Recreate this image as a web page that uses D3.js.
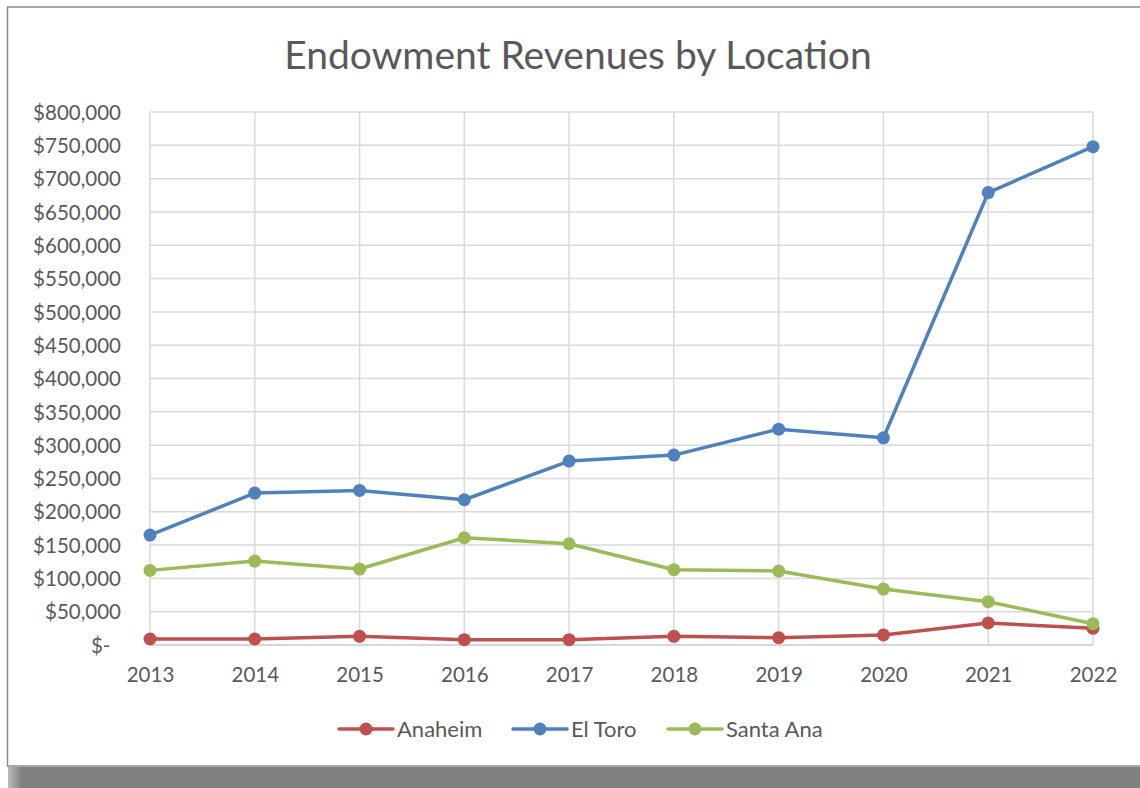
<!DOCTYPE html>
<html>
<head>
<meta charset="utf-8">
<script src="https://cdn.jsdelivr.net/npm/d3@7"></script>
<style>
    body { margin: 0; background: #fff; }
    text { font-family: Lato, "Open Sans", sans-serif; fill: #595959; }
</style>
</head>
<body>
<div class="svg-area"></div>
<script>
let years = [2013, 2014, 2015, 2016, 2017, 2018, 2019, 2020, 2021, 2022];
let anaheim = [9000, 9000, 13000, 8000, 8000, 13000, 11000, 15000, 33000, 25000];
let elToro = [165000, 228000, 232000, 218000, 276000, 285000, 324000, 311000, 679000, 748000];
let santaAna = [112000, 126000, 114000, 161000, 152000, 113000, 111000, 84000, 65000, 32000];
let yTicks = d3.range(0, 800001, 50000);

let seriesNames = ["Anaheim", "El Toro", "Santa Ana"];
let seriesColors = ["#C0504D", "#4F81BD", "#9BBB59"];
let series = [anaheim, elToro, santaAna];

let svg = d3.select(".svg-area").append("svg")
    .attr("width", 1140)
    .attr("height", 788)

// shadow + frame
let grad = svg.append("defs").append("linearGradient")
    .attr("id", "shadowGrad")
    .attr("x1", "0").attr("x2", "1")
grad.append("stop").attr("offset", "0").attr("stop-color", "#bdbdbd")
grad.append("stop").attr("offset", "0.012").attr("stop-color", "#808080")
grad.append("stop").attr("offset", "1").attr("stop-color", "#808080")

svg.append("rect")
    .attr("x", 8)
    .attr("y", 767)
    .attr("width", 1132)
    .attr("height", 21)
    .attr("fill", "url(#shadowGrad)")

svg.append("rect")
    .attr("x", 7.5)
    .attr("y", 7)
    .attr("width", 1140)
    .attr("height", 759)
    .attr("fill", "#fff")
    .attr("stroke", "#8c8c8c")
    .attr("stroke-width", 1.5)

let plotLeft = 150, plotRight = 1093, plotTop = 112, plotBottom = 645;

let x = d3.scalePoint()
    .domain(years)
    .range([plotLeft, plotRight])

let y = d3.scaleLinear()
    .domain([0, 800000])
    .range([plotBottom, plotTop])

// title
svg.append("text")
    .attr("x", 578)
    .attr("y", 54)
    .attr("text-anchor", "middle")
    .attr("dominant-baseline", "central")
    .style("font-size", "39px")
    .text("Endowment Revenues by Location")

// grid
svg.append("g").selectAll("line").data(yTicks).enter().append("line")
    .attr("x1", plotLeft)
    .attr("x2", plotRight)
    .attr("y1", d => y(d))
    .attr("y2", d => y(d))
    .attr("stroke", d => d === 0 ? "#c8c8c8" : "#d9d9d9")
    .attr("stroke-width", 1.5)

svg.append("g").selectAll("line").data(years).enter().append("line")
    .attr("x1", d => x(d))
    .attr("x2", d => x(d))
    .attr("y1", plotTop)
    .attr("y2", plotBottom)
    .attr("stroke", "#d9d9d9")
    .attr("stroke-width", 1.5)

// y axis labels
let fmt = d3.format(",");
let yAxis = d3.axisLeft(y)
    .tickValues(yTicks)
    .tickSize(0)
    .tickPadding(0)
    .tickFormat(d => d === 0 ? "$-  " : "$" + fmt(d))

svg.append("g")
    .attr("transform", "translate(121,0)")
    .call(yAxis)
    .call(g => g.select(".domain").remove())
    .selectAll("text")
    .style("font-size", "20.5px")
    .style("font-family", "Lato, sans-serif")
    .attr("fill", "#595959")
    .attr("dy", "0.35em")
    .style("white-space", "pre")

// x axis labels
let xAxis = d3.axisBottom(x)
    .tickSize(0)
    .tickPadding(0)

svg.append("g")
    .attr("transform", "translate(0,675)")
    .call(xAxis)
    .call(g => g.select(".domain").remove())
    .selectAll("text")
    .style("font-size", "20.5px")
    .style("font-family", "Lato, sans-serif")
    .attr("fill", "#595959")
    .attr("y", 0)
    .attr("dy", "0.35em")

// lines + markers
let line = d3.line()
    .x((d, i) => x(years[i]))
    .y(d => y(d))

for (let s = 0; s < series.length; s++) {
    let g = svg.append("g")
    g.append("path")
        .datum(series[s])
        .attr("d", line)
        .attr("fill", "none")
        .attr("stroke", seriesColors[s])
        .attr("stroke-width", 3.5)
        .attr("stroke-linejoin", "round")
        .attr("stroke-linecap", "round")
    g.selectAll("circle").data(series[s]).enter().append("circle")
        .attr("cx", (d, i) => x(years[i]))
        .attr("cy", d => y(d))
        .attr("r", 6.5)
        .attr("fill", seriesColors[s])
}

// legend
let legendX = [339, 513, 668];
let legend = svg.append("g").selectAll("g").data(seriesNames).enter().append("g")
    .attr("transform", (d, i) => "translate(" + legendX[i] + ",729)")

legend.append("line")
    .attr("x1", 0)
    .attr("x2", 54)
    .attr("stroke", (d, i) => seriesColors[i])
    .attr("stroke-width", 3.5)
    .attr("stroke-linecap", "round")
legend.append("circle")
    .attr("cx", 27)
    .attr("r", 6.5)
    .attr("fill", (d, i) => seriesColors[i])
legend.append("text")
    .attr("x", 58)
    .attr("dy", "0.35em")
    .style("font-size", "22px")
    .text(d => d)
</script>
</body>
</html>
